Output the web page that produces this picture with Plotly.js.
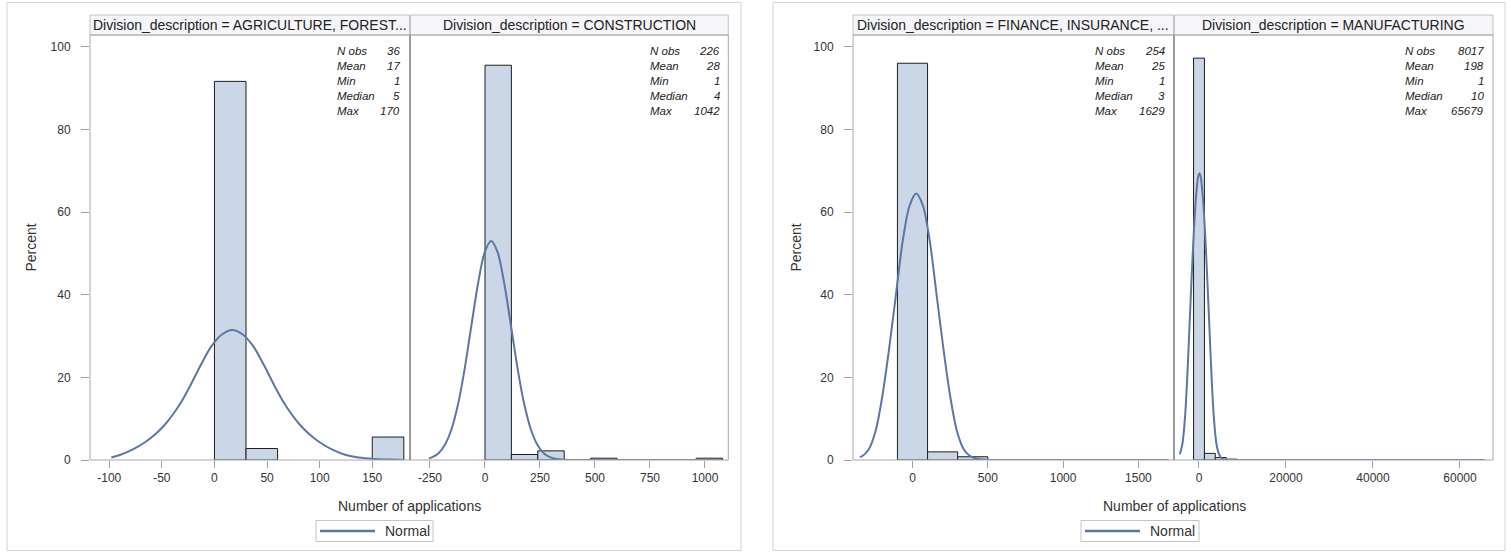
<!DOCTYPE html>
<html><head><meta charset="utf-8">
<script src="https://cdn.plot.ly/plotly-3.0.1.min.js"></script>
<style>html,body{margin:0;padding:0;background:#fff}#chart{width:1511px;height:553px}</style>
</head><body><div id="chart"></div>
<script>
// ---------------- DATA ----------------
const divisionNames = ['AGRICULTURE, FOREST...', 'CONSTRUCTION', 'FINANCE, INSURANCE, ...', 'MANUFACTURING'];
const statLabels = ['N obs', 'Mean', 'Min', 'Median', 'Max'];
const agriStats = [36, 17, 1, 5, 170];
const consStats = [226, 28, 1, 4, 1042];
const finStats  = [254, 25, 1, 3, 1629];
const manuStats = [8017, 198, 1, 10, 65679];

// histogram bins (lower edge, upper edge, percent)
const agriBinLo = [0, 30, 150];
const agriBinHi = [30, 60, 180];
const agriPct   = [91.67, 2.78, 5.56];
const consBinLo = [0, 120, 240, 480, 960];
const consBinHi = [120, 240, 360, 600, 1080];
const consPct   = [95.58, 1.33, 2.21, 0.44, 0.44];
const finBinLo  = [-100, 100, 300];
const finBinHi  = [100, 300, 500];
const finPct    = [96.06, 1.97, 0.79];
const manuBinLo = [-1250, 1250, 3750, 6250];
const manuBinHi = [1250, 3750, 6250, 8750];
const manuPct   = [97.3, 1.6, 0.6, 0.2];

// normal curves
const agriCurveX = [-98, -90, -78, -66, -56, -47, -39, -31, -23, -13, -3, 7, 17, 27, 37, 47, 57, 65, 73, 81, 90, 100, 112, 125, 137, 152, 167, 178];
const agriCurveY = [0.6, 1.2, 2.5, 4.3, 6.3, 8.6, 11.2, 14.3, 18, 23, 27.5, 30.4, 31.5, 30.4, 27.5, 23, 18, 14.3, 11.2, 8.6, 6.3, 4.3, 2.5, 1.2, 0.6, 0.25, 0.1, 0.05];
const consCurveX = [-255, -242, -212, -182, -152, -122, -92, -62, -32, -2, 28, 58, 88, 118, 148, 178, 208, 238, 268, 298, 328, 360, 400, 600, 800, 1000, 1070];
const consCurveY = [0.4, 0.65, 1.6, 3.7, 7.5, 13.6, 22.2, 32.5, 42.6, 50.2, 53, 50.2, 42.6, 32.5, 22.2, 13.6, 7.5, 3.7, 1.6, 0.65, 0.23, 0.07, 0.02, 0, 0, 0, 0];
const finCurveX  = [-350, -335, -290, -245, -200, -155, -110, -65, -20, 25, 70, 115, 160, 205, 250, 295, 340, 385, 430, 475, 520, 700, 1000, 1300, 1600, 1700];
const finCurveY  = [0.7, 0.9, 2.6, 7, 15.5, 27, 40, 53, 61.5, 64.5, 61.5, 53, 40, 27, 15.5, 7, 2.6, 0.9, 0.3, 0.1, 0.03, 0, 0, 0, 0, 0];
const manuCurveX = [-4400, -3800, -3200, -2700, -2200, -1700, -1200, -700, -200, 100, 400, 900, 1400, 1900, 2400, 2900, 3400, 4000, 4600, 5200, 6000, 10000, 30000, 50000, 65700];
const manuCurveY = [1.4, 4, 10.5, 20, 32, 44, 55, 63.5, 68.5, 69.4, 68.5, 63.5, 55, 44, 32, 20, 10.5, 4, 1.4, 0.4, 0.05, 0, 0, 0, 0];

// tick labels
const agriTicks = [-100, -50, 0, 50, 100, 150];
const consTicks = [-250, 0, 250, 500, 750, 1000];
const finTicks  = [0, 500, 1000, 1500];
const manuTicks = [0, 20000, 40000, 60000];
const pctTicks  = [0, 20, 40, 60, 80, 100];

// ---------------- LAYOUT HELPERS ----------------
const W = 1511, H = 553;
const px = x => x / W;
const py = y => 1 - y / H;
const FONT = 'Liberation Sans, Arial, sans-serif';
const BAR_FILL = '#cbd6e6', BAR_EDGE = '#1e1e1e', CURVE = '#5c76a5';

const panels = [
  {xa: 'x',  key: 'xaxis',  d: [90, 409.5],    r: [-118.3, 185.4], lo: agriBinLo, hi: agriBinHi, pct: agriPct, cx: agriCurveX, cy: agriCurveY, ticks: agriTicks, stats: agriStats, ya: 'y', lab: 335, val: 401.7},
  {xa: 'x2', key: 'xaxis2', d: [410.5, 728.3], r: [-338.6, 1106], lo: consBinLo, hi: consBinHi, pct: consPct, cx: consCurveX, cy: consCurveY, ticks: consTicks, stats: consStats, ya: 'y', lab: 648, val: 721.7},
  {xa: 'x3', key: 'xaxis3', d: [853, 1173.5],  r: [-395, 1733],    lo: finBinLo, hi: finBinHi, pct: finPct, cx: finCurveX, cy: finCurveY, ticks: finTicks, stats: finStats, ya: 'y2', lab: 1093, val: 1166.7},
  {xa: 'x4', key: 'xaxis4', d: [1174.5, 1493], r: [-5630, 67590],  lo: manuBinLo, hi: manuBinHi, pct: manuPct, cx: manuCurveX, cy: manuCurveY, ticks: manuTicks, stats: manuStats, ya: 'y2', lab: 1403, val: 1486},
];

const traces = [];
const layout = {
  width: W, height: H, margin: {l: 0, r: 0, t: 0, b: 0},
  paper_bgcolor: '#fff', plot_bgcolor: 'rgba(0,0,0,0)',
  showlegend: false, font: {family: FONT, color: '#333'},
  shapes: [], annotations: []
};

panels.forEach((p, i) => {
  traces.push({
    type: 'bar', xaxis: p.xa, yaxis: p.ya,
    x: p.lo.map((l, k) => (l + p.hi[k]) / 2),
    width: p.lo.map((l, k) => p.hi[k] - l),
    y: p.pct,
    marker: {color: BAR_FILL, line: {color: BAR_EDGE, width: 1}},
    hoverinfo: 'skip'
  });
  traces.push({
    type: 'scatter', mode: 'lines', xaxis: p.xa, yaxis: p.ya,
    x: p.cx, y: p.cy,
    line: {color: CURVE, width: 2, shape: 'spline', smoothing: 0.8},
    hoverinfo: 'skip'
  });
  layout[p.key] = {
    domain: [px(p.d[0]), px(p.d[1])], range: p.r, anchor: p.ya,
    showgrid: false, zeroline: false, showline: false,
    ticks: 'outside', ticklen: 7, tickcolor: '#a0a0a0', tickwidth: 1,
    tickvals: p.ticks, ticktext: p.ticks.map(String),
    tickfont: {family: FONT, size: 12, color: '#333'}, fixedrange: true
  };
  // header
  layout.shapes.push({type: 'rect', xref: 'paper', yref: 'paper', x0: px(p.d[0]), x1: px(p.d[1]), y0: py(35), y1: py(15),
    fillcolor: '#f5f5fa', line: {color: '#c4c4c4', width: 1}});
  layout.annotations.push({xref: 'paper', yref: 'paper', x: px((p.d[0] + p.d[1]) / 2), y: py(25), xanchor: 'center', yanchor: 'middle',
    text: 'Division_description = ' + divisionNames[i], showarrow: false, font: {family: FONT, size: 14, color: '#222'}});
  // stats inset
  statLabels.forEach((s, k) => {
    layout.annotations.push({xref: 'paper', yref: 'paper', x: px(p.lab), y: py(51 + 15 * k), xanchor: 'left', yanchor: 'middle',
      text: '<i>' + s + '</i>', showarrow: false, font: {family: FONT, size: 11.5, color: '#222'}});
    layout.annotations.push({xref: 'paper', yref: 'paper', x: px(p.val), y: py(51 + 15 * k), xanchor: 'right', yanchor: 'middle',
      text: '<i>' + p.stats[k] + '</i>', showarrow: false, font: {family: FONT, size: 11.5, color: '#222'}});
  });
});

const yax = (anchor) => ({
  domain: [py(460), py(35)], range: [0, 102.9], anchor: anchor,
  showgrid: false, zeroline: false, showline: false,
  ticks: 'outside', ticklen: 8, tickcolor: '#a0a0a0', tickwidth: 1,
  ticklabelstandoff: 8,
  tickvals: pctTicks, ticktext: pctTicks.map(String),
  tickfont: {family: FONT, size: 12, color: '#333'}, fixedrange: true
});
layout.yaxis = yax('x');
layout.yaxis2 = yax('x3');

// figure frames, panel borders, dividers, axis titles, legends
[[7, 741, 90, 728.3, 410, 30, 409, 316, 433], [773, 1505, 853, 1493, 1174, 795, 1174.5, 1081, 1199]].forEach(f => {
  const [fx0, fx1, ax0, ax1, div, ytx, xtx, lg0, lg1] = f;
  layout.shapes.push({type: 'rect', xref: 'paper', yref: 'paper', x0: px(fx0), x1: px(fx1), y0: py(550.5), y1: py(2.5),
    line: {color: '#d4d4d4', width: 1}, layer: 'below'});
  layout.shapes.push({type: 'rect', xref: 'paper', yref: 'paper', x0: px(ax0), x1: px(ax1), y0: py(460), y1: py(35),
    line: {color: '#a8a8a8', width: 1}});
  layout.shapes.push({type: 'line', xref: 'paper', yref: 'paper', x0: px(div), x1: px(div), y0: py(460), y1: py(35),
    line: {color: '#9a9a9a', width: 2}});
  layout.annotations.push({xref: 'paper', yref: 'paper', x: px(ytx), y: py(247.5), xanchor: 'center', yanchor: 'middle',
    text: 'Percent', textangle: -90, showarrow: false, font: {family: FONT, size: 14, color: '#333'}});
  layout.annotations.push({xref: 'paper', yref: 'paper', x: px(xtx), y: py(506), xanchor: 'center', yanchor: 'middle',
    text: 'Number of applications', showarrow: false, font: {family: FONT, size: 14, color: '#333'}});
  layout.shapes.push({type: 'rect', xref: 'paper', yref: 'paper', x0: px(lg0), x1: px(lg1), y0: py(541.5), y1: py(520.5),
    line: {color: '#c4c4c4', width: 1}});
  layout.shapes.push({type: 'line', xref: 'paper', yref: 'paper', x0: px(lg0 + 4), x1: px(lg0 + 59), y0: py(531), y1: py(531),
    line: {color: CURVE, width: 2.5}});
  layout.annotations.push({xref: 'paper', yref: 'paper', x: px(lg0 + 67), y: py(531), xanchor: 'left', yanchor: 'middle',
    text: 'Normal', showarrow: false, font: {family: FONT, size: 14, color: '#333'}});
});

Plotly.newPlot('chart', traces, layout, {displayModeBar: false, staticPlot: true});
</script>
</body></html>
